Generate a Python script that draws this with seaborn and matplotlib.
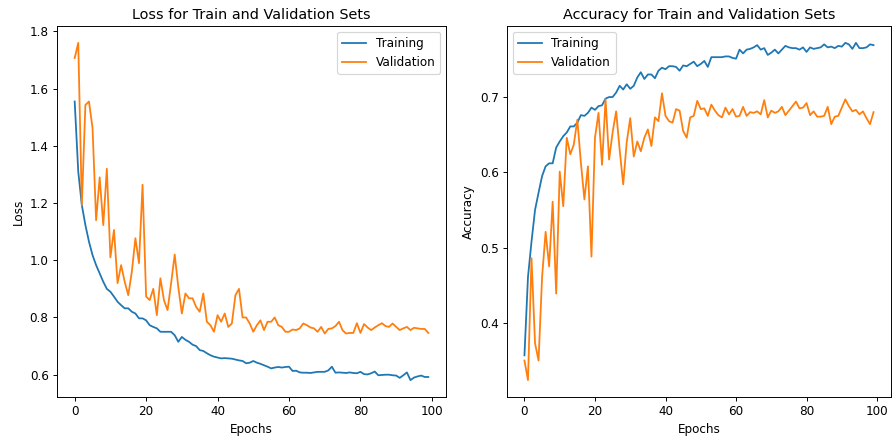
import matplotlib
matplotlib.use("Agg")
import matplotlib.pyplot as plt
import seaborn as sns
import numpy as np
import pandas as pd

epochs = list(range(100))

train_loss = [1.555, 1.31, 1.193, 1.123, 1.065, 1.018, 0.983, 0.954, 0.925, 0.90,
              0.89, 0.873, 0.855, 0.843, 0.832, 0.832, 0.82, 0.814, 0.797, 0.797,
              0.79, 0.773, 0.767, 0.762, 0.75, 0.75, 0.75, 0.75, 0.738, 0.715,
              0.732, 0.722, 0.715, 0.705, 0.70, 0.686, 0.683, 0.675, 0.668, 0.663,
              0.66, 0.657, 0.658, 0.657, 0.656, 0.653, 0.65, 0.648, 0.64, 0.642,
              0.648, 0.642, 0.638, 0.633, 0.628, 0.622, 0.625, 0.627, 0.625, 0.627,
              0.628, 0.613, 0.614, 0.608, 0.607, 0.607, 0.606, 0.608, 0.61, 0.61,
              0.61, 0.615, 0.628, 0.607, 0.608, 0.607, 0.606, 0.608, 0.606, 0.605,
              0.61, 0.602, 0.601, 0.605, 0.611, 0.598, 0.599, 0.60, 0.60, 0.598,
              0.597, 0.589, 0.598, 0.608, 0.581, 0.59, 0.594, 0.597, 0.592, 0.592]

val_loss = [1.707, 1.76, 1.193, 1.543, 1.555, 1.462, 1.14, 1.29, 1.123, 1.32,
            1.01, 1.106, 0.92, 0.983, 0.925, 0.878, 0.96, 1.077, 0.99, 1.264,
            0.873, 0.861, 0.90, 0.808, 0.937, 0.86, 0.826, 0.92, 1.02, 0.907,
            0.814, 0.884, 0.867, 0.867, 0.837, 0.82, 0.884, 0.785, 0.773, 0.75,
            0.808, 0.785, 0.814, 0.767, 0.779, 0.878, 0.90, 0.80, 0.80, 0.779,
            0.75, 0.773, 0.79, 0.756, 0.785, 0.785, 0.80, 0.773, 0.767, 0.75,
            0.75, 0.758, 0.756, 0.762, 0.779, 0.773, 0.765, 0.762, 0.75, 0.767,
            0.744, 0.76, 0.762, 0.77, 0.785, 0.755, 0.744, 0.746, 0.746, 0.78,
            0.746, 0.777, 0.765, 0.756, 0.765, 0.773, 0.78, 0.77, 0.767, 0.779,
            0.767, 0.756, 0.762, 0.767, 0.756, 0.764, 0.762, 0.76, 0.76, 0.746]

train_acc = [0.357, 0.461, 0.508, 0.55, 0.573, 0.595, 0.608, 0.612, 0.612, 0.633,
             0.641, 0.648, 0.653, 0.661, 0.661, 0.666, 0.676, 0.675, 0.679, 0.686,
             0.683, 0.688, 0.689, 0.698, 0.70, 0.70, 0.706, 0.715, 0.71, 0.717,
             0.711, 0.715, 0.726, 0.733, 0.724, 0.73, 0.73, 0.725, 0.735, 0.739,
             0.737, 0.741, 0.741, 0.740, 0.735, 0.742, 0.741, 0.744, 0.747, 0.741,
             0.744, 0.748, 0.740, 0.753, 0.753, 0.753, 0.753, 0.754, 0.754, 0.752,
             0.751, 0.763, 0.758, 0.763, 0.764, 0.766, 0.769, 0.763, 0.765, 0.756,
             0.759, 0.763, 0.758, 0.763, 0.768, 0.766, 0.765, 0.765, 0.763, 0.766,
             0.760, 0.766, 0.764, 0.765, 0.766, 0.770, 0.766, 0.767, 0.765, 0.768,
             0.767, 0.772, 0.770, 0.764, 0.772, 0.765, 0.765, 0.766, 0.770, 0.769]

val_acc = [0.350, 0.324, 0.486, 0.373, 0.35, 0.461, 0.521, 0.475, 0.561, 0.439,
           0.601, 0.555, 0.646, 0.624, 0.637, 0.67, 0.613, 0.564, 0.608, 0.488,
           0.646, 0.679, 0.61, 0.697, 0.617, 0.653, 0.681, 0.63, 0.584, 0.64,
           0.672, 0.621, 0.641, 0.628, 0.646, 0.657, 0.635, 0.673, 0.668, 0.705,
           0.675, 0.668, 0.666, 0.684, 0.682, 0.655, 0.646, 0.673, 0.675, 0.695,
           0.684, 0.685, 0.675, 0.69, 0.682, 0.676, 0.673, 0.686, 0.677, 0.684,
           0.674, 0.675, 0.687, 0.675, 0.68, 0.679, 0.681, 0.677, 0.696, 0.673,
           0.682, 0.679, 0.681, 0.687, 0.676, 0.682, 0.688, 0.694, 0.685, 0.686,
           0.692, 0.676, 0.681, 0.674, 0.674, 0.675, 0.687, 0.664, 0.674, 0.675,
           0.686, 0.697, 0.688, 0.681, 0.683, 0.677, 0.681, 0.672, 0.664, 0.68]

series_labels = ["Training", "Validation"]
colors = ["#1f77b4", "#ff7f0e"]

plt.rcParams['font.family'] = ['DejaVu Sans']
DPI = 86
fig = plt.figure(figsize=(893 / DPI, 438 / DPI), dpi=DPI)
W, H = 893.0, 438.0

def axes_px(left, right, top, bottom):
    return fig.add_axes([left / W, 1 - bottom / H, (right - left) / W, (bottom - top) / H])

ax1 = axes_px(57, 446, 26, 397)
ax2 = axes_px(507, 891, 26, 397)

for ax, (tr, va), title, ylabel, loc in [
    (ax1, (train_loss, val_loss), "Loss for Train and Validation Sets", "Loss", "upper right"),
    (ax2, (train_acc, val_acc), "Accuracy for Train and Validation Sets", "Accuracy", "upper left"),
]:
    for vals, lab, col in zip((tr, va), series_labels, colors):
        sns.lineplot(x=epochs, y=vals, ax=ax, color=col, label=lab, linewidth=1.5)
    ax.set_title(title, fontsize=12)
    ax.set_xlabel("Epochs", fontsize=10)
    ax.set_ylabel(ylabel, fontsize=10)
    ax.tick_params(labelsize=10)
    ax.legend(loc=loc, fontsize=10)

fig.savefig("out.png", dpi=DPI)
